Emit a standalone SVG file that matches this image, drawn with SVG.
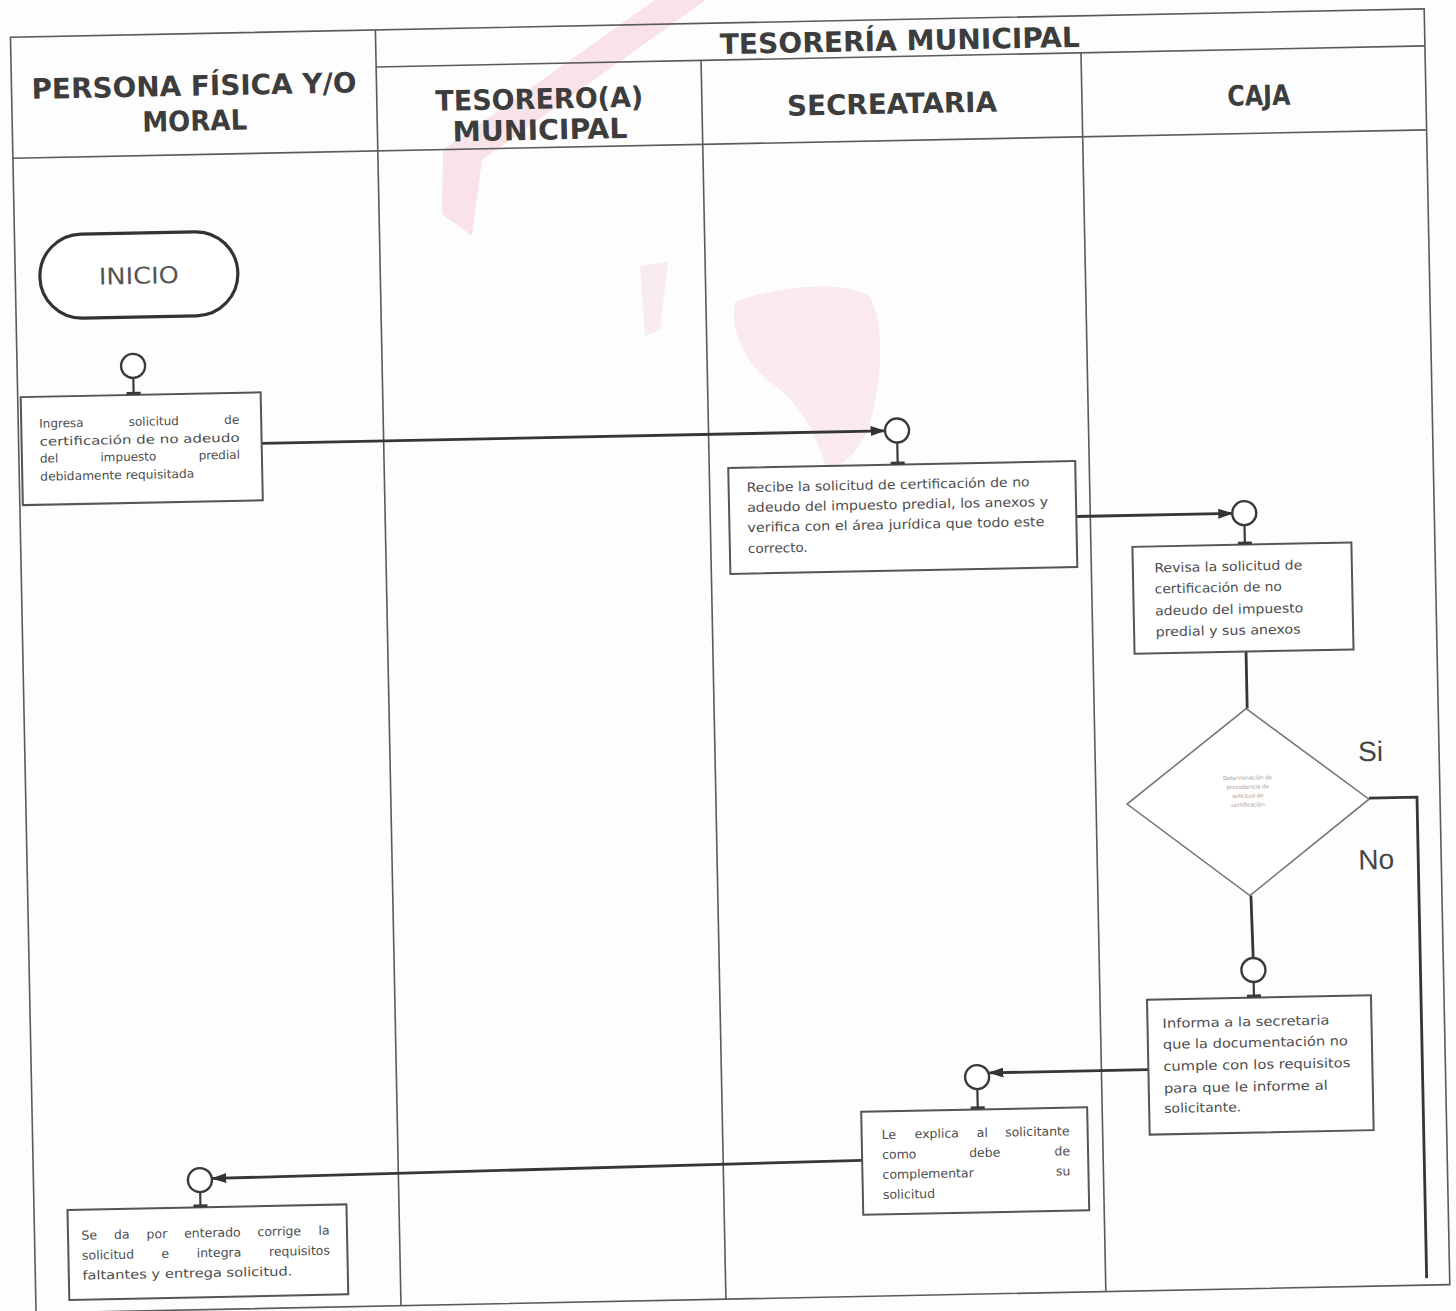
<svg xmlns="http://www.w3.org/2000/svg" width="1456" height="1311" viewBox="0 0 1456 1311">
  <defs>
    <marker id="arrow" markerWidth="15" markerHeight="10" refX="14" refY="5" orient="auto" markerUnits="userSpaceOnUse">
      <path d="M0,0 L15,5 L0,10 z" fill="#333"/>
    </marker>
    <style>
      .frame { fill: none; stroke: #5a5a5a; stroke-width: 1.6; }
      .hdr { font-family: "DejaVu Sans Condensed", "DejaVu Sans", Verdana, sans-serif; font-weight: bold; fill: #3d3d3d; text-anchor: middle; }
      .box { fill: #fff; stroke: #555; stroke-width: 2; }
      .term { fill: #fff; stroke: #333; stroke-width: 3.2; }
      .dec { fill: #fff; stroke: #777; stroke-width: 1.6; }
      .pin { fill: #fff; stroke: #3a3a3a; stroke-width: 2.4; }
      .stem { stroke: #3a3a3a; stroke-width: 2.2; }
      .foot { fill: #3a3a3a; }
      .t { font-family: "DejaVu Sans", Verdana, sans-serif; font-size: 13px; fill: #4d4d4d; }
      .t12 { font-size: 12px; }
      .t125 { font-size: 12.5px; }
      .end { text-anchor: end; }
      .tiny { font-family: "DejaVu Sans", Verdana, sans-serif; font-size: 5.5px; fill: #9a9a9a; text-anchor: middle; }
      .lbl { font-family: "Liberation Sans", Arial, sans-serif; font-size: 28px; fill: #444; }
      .conn { fill: none; stroke: #363636; stroke-width: 2.8; }
    </style>
  </defs>

  <rect width="1456" height="1311" fill="#fdfdfd"/>

  <!-- faint pink seal behind the sheet -->
  <g id="watermark">
    <path d="M655,0 L706,0 L482,160 L472,236 L442,214 L443,150 Z" fill="#f2a3b8" opacity="0.28"/>
    <path d="M640,266 L668,262 L660,330 L645,336 Z" fill="#f4b6c6" opacity="0.25"/>
    <path d="M735,302 C780,286 840,280 870,296 C886,330 881,380 871,420 C861,450 842,470 826,466 C815,432 800,402 770,382 C745,362 730,332 735,302 Z" fill="#f6bccb" opacity="0.3"/>
  </g>

  <!-- the sheet sits slightly turned on the page -->
  <g transform="rotate(-1.15 728 655)">
    <g id="lanes">
      <rect class="frame" x="23" y="23" width="1414" height="1276"/>
      <line class="frame" x1="388" y1="60" x2="1437" y2="60"/>
      <line class="frame" x1="23" y1="144" x2="1437" y2="144"/>
      <line class="frame" x1="388" y1="23" x2="388" y2="1299"/>
      <line class="frame" x1="713" y1="60" x2="713" y2="1299"/>
      <line class="frame" x1="1093" y1="60" x2="1093" y2="1299"/>

      <text class="hdr" x="205.5" y="85" font-size="28" textLength="325" lengthAdjust="spacingAndGlyphs">PERSONA FÍSICA Y/O</text>
      <text class="hdr" x="205.5" y="120" font-size="28" textLength="105" lengthAdjust="spacingAndGlyphs">MORAL</text>
      <text class="hdr" x="912" y="54" font-size="28" textLength="360" lengthAdjust="spacingAndGlyphs">TESORERÍA MUNICIPAL</text>
      <text class="hdr" x="550.5" y="105" font-size="28" textLength="208" lengthAdjust="spacingAndGlyphs">TESORERO(A)</text>
      <text class="hdr" x="550.5" y="136" font-size="28" textLength="175" lengthAdjust="spacingAndGlyphs">MUNICIPAL</text>
      <text class="hdr" x="903" y="117" font-size="28" textLength="210" lengthAdjust="spacingAndGlyphs">SECREATARIA</text>
      <text class="hdr" x="1270" y="116" font-size="28" textLength="63" lengthAdjust="spacingAndGlyphs">CAJA</text>
    </g>

    <g id="connectors">
      <path class="conn" d="M266,434 H889" marker-end="url(#arrow)"/>
      <path class="conn" d="M1079,523.5 H1235" marker-end="url(#arrow)"/>
      <path class="conn" d="M1246,662 V719"/>
      <path class="conn" d="M1366,811 H1414 V1292"/>
      <path class="conn" d="M1246,906 L1247,968.5"/>
      <path class="conn" d="M1140,1078 H981" marker-end="url(#arrow)"/>
      <path class="conn" d="M852,1163 L202,1168" marker-end="url(#arrow)"/>
      <text class="lbl" x="1356" y="774">Si</text>
      <text class="lbl" x="1354" y="882">No</text>
    </g>

    <g id="n-inicio">
      <rect class="term" x="47.6" y="221.2" width="198" height="84" rx="42"/>
      <text x="146.6" y="272" font-family="DejaVu Sans Condensed, DejaVu Sans, Verdana, sans-serif" font-size="23" fill="#555" text-anchor="middle" textLength="80" lengthAdjust="spacingAndGlyphs">INICIO</text>
    </g>

    <g id="n-ingresa">
      <circle class="pin" cx="139" cy="354" r="12"/>
      <line class="stem" x1="139" y1="366" x2="139" y2="383"/>
      <rect class="box" x="26" y="383" width="240" height="108"/>
      <rect class="foot" x="132" y="380" width="14" height="3"/>
      <text class="t t12" x="44" y="414">Ingresa</text>
      <text class="t t12" x="133.5" y="414">solicitud</text>
      <text class="t t12 end" x="244" y="414">de</text>
      <text class="t t12" x="44" y="432" textLength="200" lengthAdjust="spacingAndGlyphs">certificación de no adeudo</text>
      <text class="t t12" x="44" y="449">del</text>
      <text class="t t12" x="104.5" y="449">impuesto</text>
      <text class="t t12 end" x="244" y="449">predial</text>
      <text class="t t12" x="44" y="467" textLength="154" lengthAdjust="spacingAndGlyphs">debidamente requisitada</text>
    </g>

    <g id="n-recibe">
      <circle class="pin" cx="901.5" cy="434" r="12"/>
      <line class="stem" x1="901.5" y1="446" x2="901.5" y2="468"/>
      <rect class="box" x="732" y="468" width="347" height="106"/>
      <rect class="foot" x="894.5" y="465" width="14" height="3"/>
      <text class="t" x="750" y="492.5" textLength="283" lengthAdjust="spacingAndGlyphs">Recibe la solicitud de certificación de no</text>
      <text class="t" x="750" y="512.5" textLength="301" lengthAdjust="spacingAndGlyphs">adeudo del impuesto predial, los anexos y</text>
      <text class="t" x="750" y="532.5" textLength="297" lengthAdjust="spacingAndGlyphs">verifica con el área jurídica que todo este</text>
      <text class="t" x="750" y="553.5" textLength="60" lengthAdjust="spacingAndGlyphs">correcto.</text>
    </g>

    <g id="n-revisa">
      <circle class="pin" cx="1247" cy="523.5" r="12"/>
      <line class="stem" x1="1247" y1="535.5" x2="1247" y2="555"/>
      <rect class="box" x="1134.5" y="555" width="219" height="107"/>
      <rect class="foot" x="1240" y="552" width="14" height="3"/>
      <text class="t" x="1156" y="581" textLength="148" lengthAdjust="spacingAndGlyphs">Revisa la solicitud de</text>
      <text class="t" x="1156" y="602" textLength="127" lengthAdjust="spacingAndGlyphs">certificación de no</text>
      <text class="t" x="1156" y="624" textLength="148" lengthAdjust="spacingAndGlyphs">adeudo del impuesto</text>
      <text class="t" x="1156" y="645" textLength="145" lengthAdjust="spacingAndGlyphs">predial y sus anexos</text>
    </g>

    <g id="n-decision">
      <polygon class="dec" points="1245,719 1366,812 1245,906 1124,812"/>
      <text class="tiny" x="1245" y="790">Determinación de</text>
      <text class="tiny" x="1245" y="799">procedencia de</text>
      <text class="tiny" x="1245" y="808">solicitud de</text>
      <text class="tiny" x="1245" y="817">certificación</text>
    </g>

    <g id="n-informa">
      <circle class="pin" cx="1247" cy="980.5" r="12"/>
      <line class="stem" x1="1247" y1="992.5" x2="1247" y2="1008"/>
      <rect class="box" x="1140" y="1008" width="224" height="135"/>
      <rect class="foot" x="1240" y="1005" width="14" height="3"/>
      <text class="t" x="1155" y="1036.6" textLength="167" lengthAdjust="spacingAndGlyphs">Informa a la secretaria</text>
      <text class="t" x="1155" y="1057.6" textLength="185" lengthAdjust="spacingAndGlyphs">que la documentación no</text>
      <text class="t" x="1155" y="1079.6" textLength="187" lengthAdjust="spacingAndGlyphs">cumple con los requisitos</text>
      <text class="t" x="1155" y="1101.6" textLength="164" lengthAdjust="spacingAndGlyphs">para que le informe al</text>
      <text class="t" x="1155" y="1121.6" textLength="77" lengthAdjust="spacingAndGlyphs">solicitante.</text>
    </g>

    <g id="n-explica">
      <circle class="pin" cx="968.6" cy="1082" r="12"/>
      <line class="stem" x1="968.6" y1="1094" x2="968.6" y2="1114.4"/>
      <rect class="box" x="852" y="1114.4" width="226" height="103"/>
      <rect class="foot" x="961.6" y="1111.4" width="14" height="3"/>
      <text class="t t125" x="872" y="1142">Le</text>
      <text class="t t125" x="905" y="1142">explica</text>
      <text class="t t125" x="967" y="1142">al</text>
      <text class="t t125 end" x="1060" y="1142">solicitante</text>
      <text class="t t125" x="872" y="1162">como</text>
      <text class="t t125" x="959" y="1162">debe</text>
      <text class="t t125 end" x="1060" y="1162">de</text>
      <text class="t t125" x="872" y="1182">complementar</text>
      <text class="t t125 end" x="1060" y="1182">su</text>
      <text class="t t125" x="872" y="1202">solicitud</text>
    </g>

    <g id="n-enterado">
      <circle class="pin" cx="189.5" cy="1169.4" r="12"/>
      <line class="stem" x1="189.5" y1="1181.4" x2="189.5" y2="1196.6"/>
      <rect class="box" x="56.5" y="1196.6" width="279" height="90"/>
      <rect class="foot" x="182.5" y="1193.6" width="14" height="3"/>
      <text class="t t125" x="70" y="1226.6">Se</text>
      <text class="t t125" x="102.5" y="1226.6">da</text>
      <text class="t t125" x="135" y="1226.6">por</text>
      <text class="t t125" x="172.6" y="1226.6">enterado</text>
      <text class="t t125" x="246" y="1226.6">corrige</text>
      <text class="t t125 end" x="318" y="1226.6">la</text>
      <text class="t t125" x="70" y="1246.6">solicitud</text>
      <text class="t t125" x="149.6" y="1246.6">e</text>
      <text class="t t125" x="184.7" y="1246.6">integra</text>
      <text class="t t125 end" x="318" y="1246.6">requisitos</text>
      <text class="t t125" x="70" y="1266.6" textLength="210" lengthAdjust="spacingAndGlyphs">faltantes y entrega solicitud.</text>
    </g>
  </g>
</svg>
